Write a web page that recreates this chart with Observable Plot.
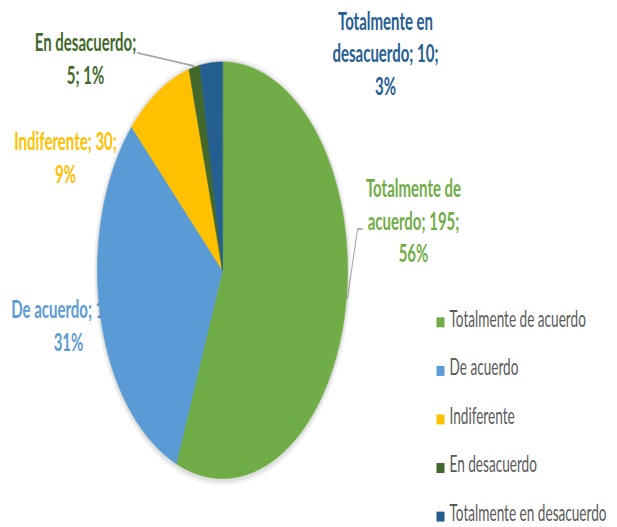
<!DOCTYPE html>
<html><head><meta charset="utf-8">
<script src="https://cdn.jsdelivr.net/npm/d3@7"></script>
<script src="https://cdn.jsdelivr.net/npm/@observablehq/plot@0.6"></script>
<style>
body{margin:0;background:#fff}
#chart svg{display:block}
</style>
</head><body><div id="chart"></div>
<script>
// ---- data ----
const categories = ["Totalmente de acuerdo", "De acuerdo", "Indiferente", "En desacuerdo", "Totalmente en desacuerdo"];
const values = [195, 108, 30, 5, 10];
const percents = [56, 31, 9, 1, 3];
const colors = ["#70AD47", "#5B9BD5", "#FFC000", "#43682B", "#255E91"];

// ---- layout (full-image pixel units, vertical stretch S) ----
const S = 1.66, W = 617, FULLH = 527, H = Math.round(FULLH / S);
const CX = 222, CY = 269, RX = 125, RY = 208;
const ux = px => (px - CX) / RX, uy = py => (CY - py) / RY;

// data-label text built from the values
const labelText = [
  `Totalmente de\nacuerdo; ${values[0]};\n${percents[0]}%`,
  `De acuerdo; ${values[1]};\n${percents[1]}%`,
  `Indiferente; ${values[2]};\n${percents[2]}%`,
  `En desacuerdo;\n${values[3]}; ${percents[3]}%`,
  `Totalmente en\ndesacuerdo; ${values[4]};\n${percents[4]}%`
];
const labelPos = [[413, 218], [68, 323], [65, 155], [85, 56], [385, 51]];
const labels = categories.map((c, i) => ({cat: c, text: labelText[i], x: ux(labelPos[i][0]), y: uy(labelPos[i][1])}));

// slices via d3.pie (clockwise from 12 o'clock)
const arcs = d3.pie().sort(null).value(d => d)(values);
const pts = [];
const outline = [];
arcs.forEach((a, i) => {
  const cat = categories[i];
  pts.push({cat, x: 0, y: 0});
  const n = Math.max(2, Math.ceil((a.endAngle - a.startAngle) / (Math.PI / 360)));
  for (let k = 0; k <= n; k++) {
    const t = a.startAngle + (a.endAngle - a.startAngle) * k / n;
    pts.push({cat, x: Math.sin(t), y: Math.cos(t)});
    outline.push({x: Math.sin(t), y: Math.cos(t)});
  }
});

// leader lines
const leaders = [
  {id: 0, x: ux(362), y: uy(228)}, {id: 0, x: ux(357), y: uy(228)}, {id: 0, x: ux(347), y: uy(297)},
  {id: 3, x: ux(137), y: uy(52)}, {id: 3, x: ux(193), y: uy(65)}
];

// legend
const legend = categories.map((c, i) => ({cat: c, y: uy(321 + i * 48.5)}));
const legendText = categories.map((c, i) => ({cat: c, y: uy(318 + i * 48.5)}));
const legendSquare = {draw(ctx) { ctx.rect(-4, -3, 8, 6); }};

const chart = Plot.plot({
  width: W, height: H, margin: 0,
  x: {domain: [-1, 1], range: [CX - RX, CX + RX], axis: null},
  y: {domain: [-1, 1], range: [(CY + RY) / S, (CY - RY) / S], axis: null},
  color: {domain: categories, range: colors},
  style: {background: "white", fontFamily: "Lato, 'Open Sans', sans-serif", overflow: "visible"},
  marks: [
    Plot.text(labels, {x: "x", y: "y", text: "text", fill: "cat", fontSize: 15, fontWeight: "bold", lineHeight: 1.31, lineAnchor: "middle"}),
    Plot.line(leaders, {x: "x", y: "y", z: "id", stroke: "#A6A6A6", strokeWidth: 1}),
    // soft shadow halo
    Plot.line(outline, {x: "x", y: "y", curve: "linear-closed", stroke: "#000", strokeOpacity: 0.05, strokeWidth: 7, dy: 0.6}),
    Plot.line(outline, {x: "x", y: "y", curve: "linear-closed", stroke: "#000", strokeOpacity: 0.07, strokeWidth: 3.5, dy: 0.6}),
    Plot.line(pts, {x: "x", y: "y", z: "cat", fill: "cat", stroke: "cat", strokeWidth: 0.5, curve: "linear-closed"}),
    Plot.dot(legend, {x: ux(440), y: "y", fill: "cat", symbol: legendSquare, r: 4}),
    Plot.text(legendText, {x: ux(449), y: "y", text: "cat", textAnchor: "start", fill: "#595959", fontSize: 13.6})
  ]
});

// stretch vertically like the original picture
chart.setAttribute("height", FULLH);
chart.setAttribute("preserveAspectRatio", "none");

document.getElementById("chart").append(chart);
</script>
</body></html>
